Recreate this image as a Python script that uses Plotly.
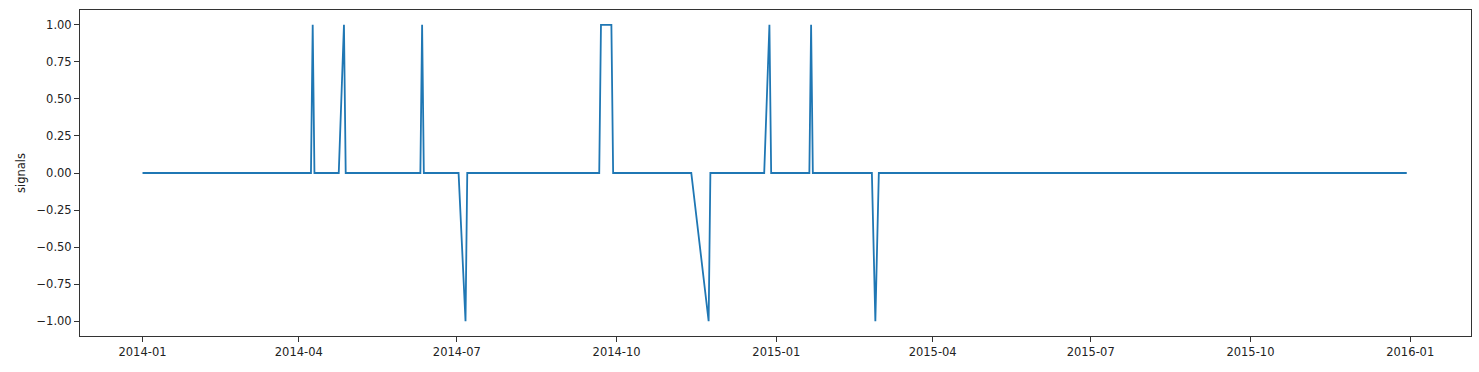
import plotly.graph_objects as go

# Vertices of the signal line (dates where the value changes)
dates = [
    "2014-01-01",
    "2014-04-08", "2014-04-09", "2014-04-10",
    "2014-04-24", "2014-04-27", "2014-04-28",
    "2014-06-10", "2014-06-11", "2014-06-12",
    "2014-07-02", "2014-07-06", "2014-07-07",
    "2014-09-21", "2014-09-22", "2014-09-28", "2014-09-29",
    "2014-11-13", "2014-11-23", "2014-11-24",
    "2014-12-25", "2014-12-28", "2014-12-29",
    "2015-01-20", "2015-01-21", "2015-01-22",
    "2015-02-25", "2015-02-27", "2015-03-01",
    "2015-12-30",
]
signals = [
    0,
    0, 1, 0,
    0, 1, 0,
    0, 1, 0,
    0, -1, 0,
    0, 1, 1, 0,
    0, -1, 0,
    0, 1, 0,
    0, 1, 0,
    0, -1, 0,
    0,
]

y_ticks = [-1.0, -0.75, -0.5, -0.25, 0.0, 0.25, 0.5, 0.75, 1.0]

fig = go.Figure()
fig.add_trace(go.Scatter(
    x=dates, y=signals, mode="lines",
    line=dict(color="#1f77b4", width=1.8),
    showlegend=False,
))

axis_font = dict(family="DejaVu Sans", size=11.5, color="#222222")

fig.update_layout(
    width=1479, height=372,
    margin=dict(l=80, r=8, t=10, b=36),
    paper_bgcolor="white", plot_bgcolor="white",
    font=dict(family="DejaVu Sans", size=11.5, color="#222222"),
    xaxis=dict(
        type="date",
        range=["2013-11-26", "2016-02-05"],
        tick0="2014-01-01", dtick="M3", tickformat="%Y-%m",
        showgrid=False, zeroline=False,
        showline=True, mirror=True, linecolor="#333333", linewidth=1,
        ticks="outside", ticklen=5, tickcolor="#333333", tickwidth=1,
        tickfont=axis_font,
    ),
    yaxis=dict(
        range=[-1.1, 1.1],
        tickvals=y_ticks, tickformat=".2f",
        showgrid=False, zeroline=False,
        showline=True, mirror=True, linecolor="#333333", linewidth=1,
        ticks="outside", ticklen=5, tickcolor="#333333", tickwidth=1,
        tickfont=axis_font,
        title=dict(text="signals", font=dict(family="DejaVu Sans", size=11.5, color="#222222"), standoff=8),
    ),
)

fig.write_html("out.html")
